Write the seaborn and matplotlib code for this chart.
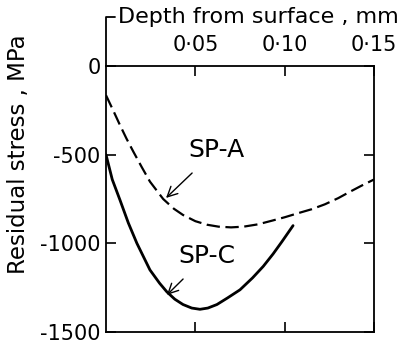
# Residual stress vs depth for SP-A and SP-C shot peening conditions
import matplotlib
matplotlib.use('Agg')
import matplotlib.pyplot as plt
import seaborn as sns
import pandas as pd

# values
depth_a = [0, 0.004, 0.0078, 0.0115, 0.0153, 0.02, 0.0246, 0.032, 0.038,
           0.0431, 0.05, 0.0565, 0.063, 0.07, 0.077, 0.085, 0.093, 0.1,
           0.1075, 0.115, 0.1225, 0.13, 0.136, 0.143, 0.15]
stress_a = [-165, -250, -333, -410, -483, -570, -652, -750, -805,
            -840, -875, -895, -906, -910, -906, -893, -872, -853,
            -830, -808, -780, -745, -712, -675, -640]

depth_c = [0, 0.0035, 0.0078, 0.0125, 0.0173, 0.0246, 0.03, 0.0341, 0.0385,
           0.0431, 0.048, 0.0526, 0.057, 0.0621, 0.068, 0.075, 0.082, 0.088,
           0.0935, 0.0985, 0.1047]
stress_c = [-500, -640, -755, -885, -1000, -1150, -1225, -1274, -1315,
            -1345, -1365, -1372, -1365, -1345, -1308, -1262, -1195, -1130,
            -1060, -990, -900]

x_ticks = [0.05, 0.10, 0.15]
x_tick_labels = ['0·05', '0·10', '0·15']
y_ticks = [0, -500, -1000, -1500]
y_tick_labels = ['0', '-500', '-1000', '-1500']

df_a = pd.DataFrame({'depth': depth_a, 'stress': stress_a})
df_c = pd.DataFrame({'depth': depth_c, 'stress': stress_c})

sns.set_style('ticks')
plt.rcParams['font.family'] = ['DejaVu Sans']
plt.rcParams['text.color'] = 'black'
plt.rcParams['xtick.color'] = 'black'
plt.rcParams['ytick.color'] = 'black'
plt.rcParams['axes.labelcolor'] = 'black'

fig = plt.figure(figsize=(4.11, 3.53), dpi=100)
ax = fig.add_axes([106 / 411, 1 - 332 / 353, 268 / 411, 266 / 353])

sns.lineplot(data=df_a, x='depth', y='stress', ax=ax, color='black',
             linewidth=1.6, sort=False, estimator=None)
ax.lines[-1].set_dashes((6, 2.5))
sns.lineplot(data=df_c, x='depth', y='stress', ax=ax, color='black',
             linewidth=2.0, sort=False, estimator=None)

ax.set_xlim(0, 0.15)
ax.set_ylim(-1500, 0)

ax.set_xticks(x_ticks)
ax.set_xticklabels(x_tick_labels)
ax.set_yticks(y_ticks)
ax.set_yticklabels(y_tick_labels)
ax.tick_params(direction='in', top=True, bottom=True, left=True, right=True,
               labeltop=True, labelbottom=False, labelsize=15, length=7,
               width=1.2, color='black', labelcolor='black')
ax.tick_params(axis='x', pad=8)
ax.tick_params(axis='y', pad=4)
for s in ax.spines.values():
    s.set_linewidth(1.3)
    s.set_color('black')

ax.set_xlabel('')
ax.set_ylabel('Residual stress , MPa', fontsize=16.5)
ax.yaxis.set_label_coords(-0.285, 0.669)

# top title with the bracket line from the left spine
ax.plot([0, 0, 0.005], [0, 275, 275], color='black', linewidth=1.3,
        clip_on=False)
ax.text(0.0065, 275, 'Depth from surface , mm', fontsize=16, va='center',
        ha='left')

# curve labels with arrows
ax.annotate('SP-A', xy=(0.0336, -744), xytext=(0.0459, -474), fontsize=18,
            va='center', ha='left',
            arrowprops=dict(arrowstyle='->', color='black', lw=1,
                            shrinkA=8, shrinkB=0))
ax.annotate('SP-C', xy=(0.0341, -1291), xytext=(0.0403, -1071), fontsize=18,
            va='center', ha='left',
            arrowprops=dict(arrowstyle='->', color='black', lw=1,
                            shrinkA=8, shrinkB=0))

fig.savefig('out.png', dpi=100)
